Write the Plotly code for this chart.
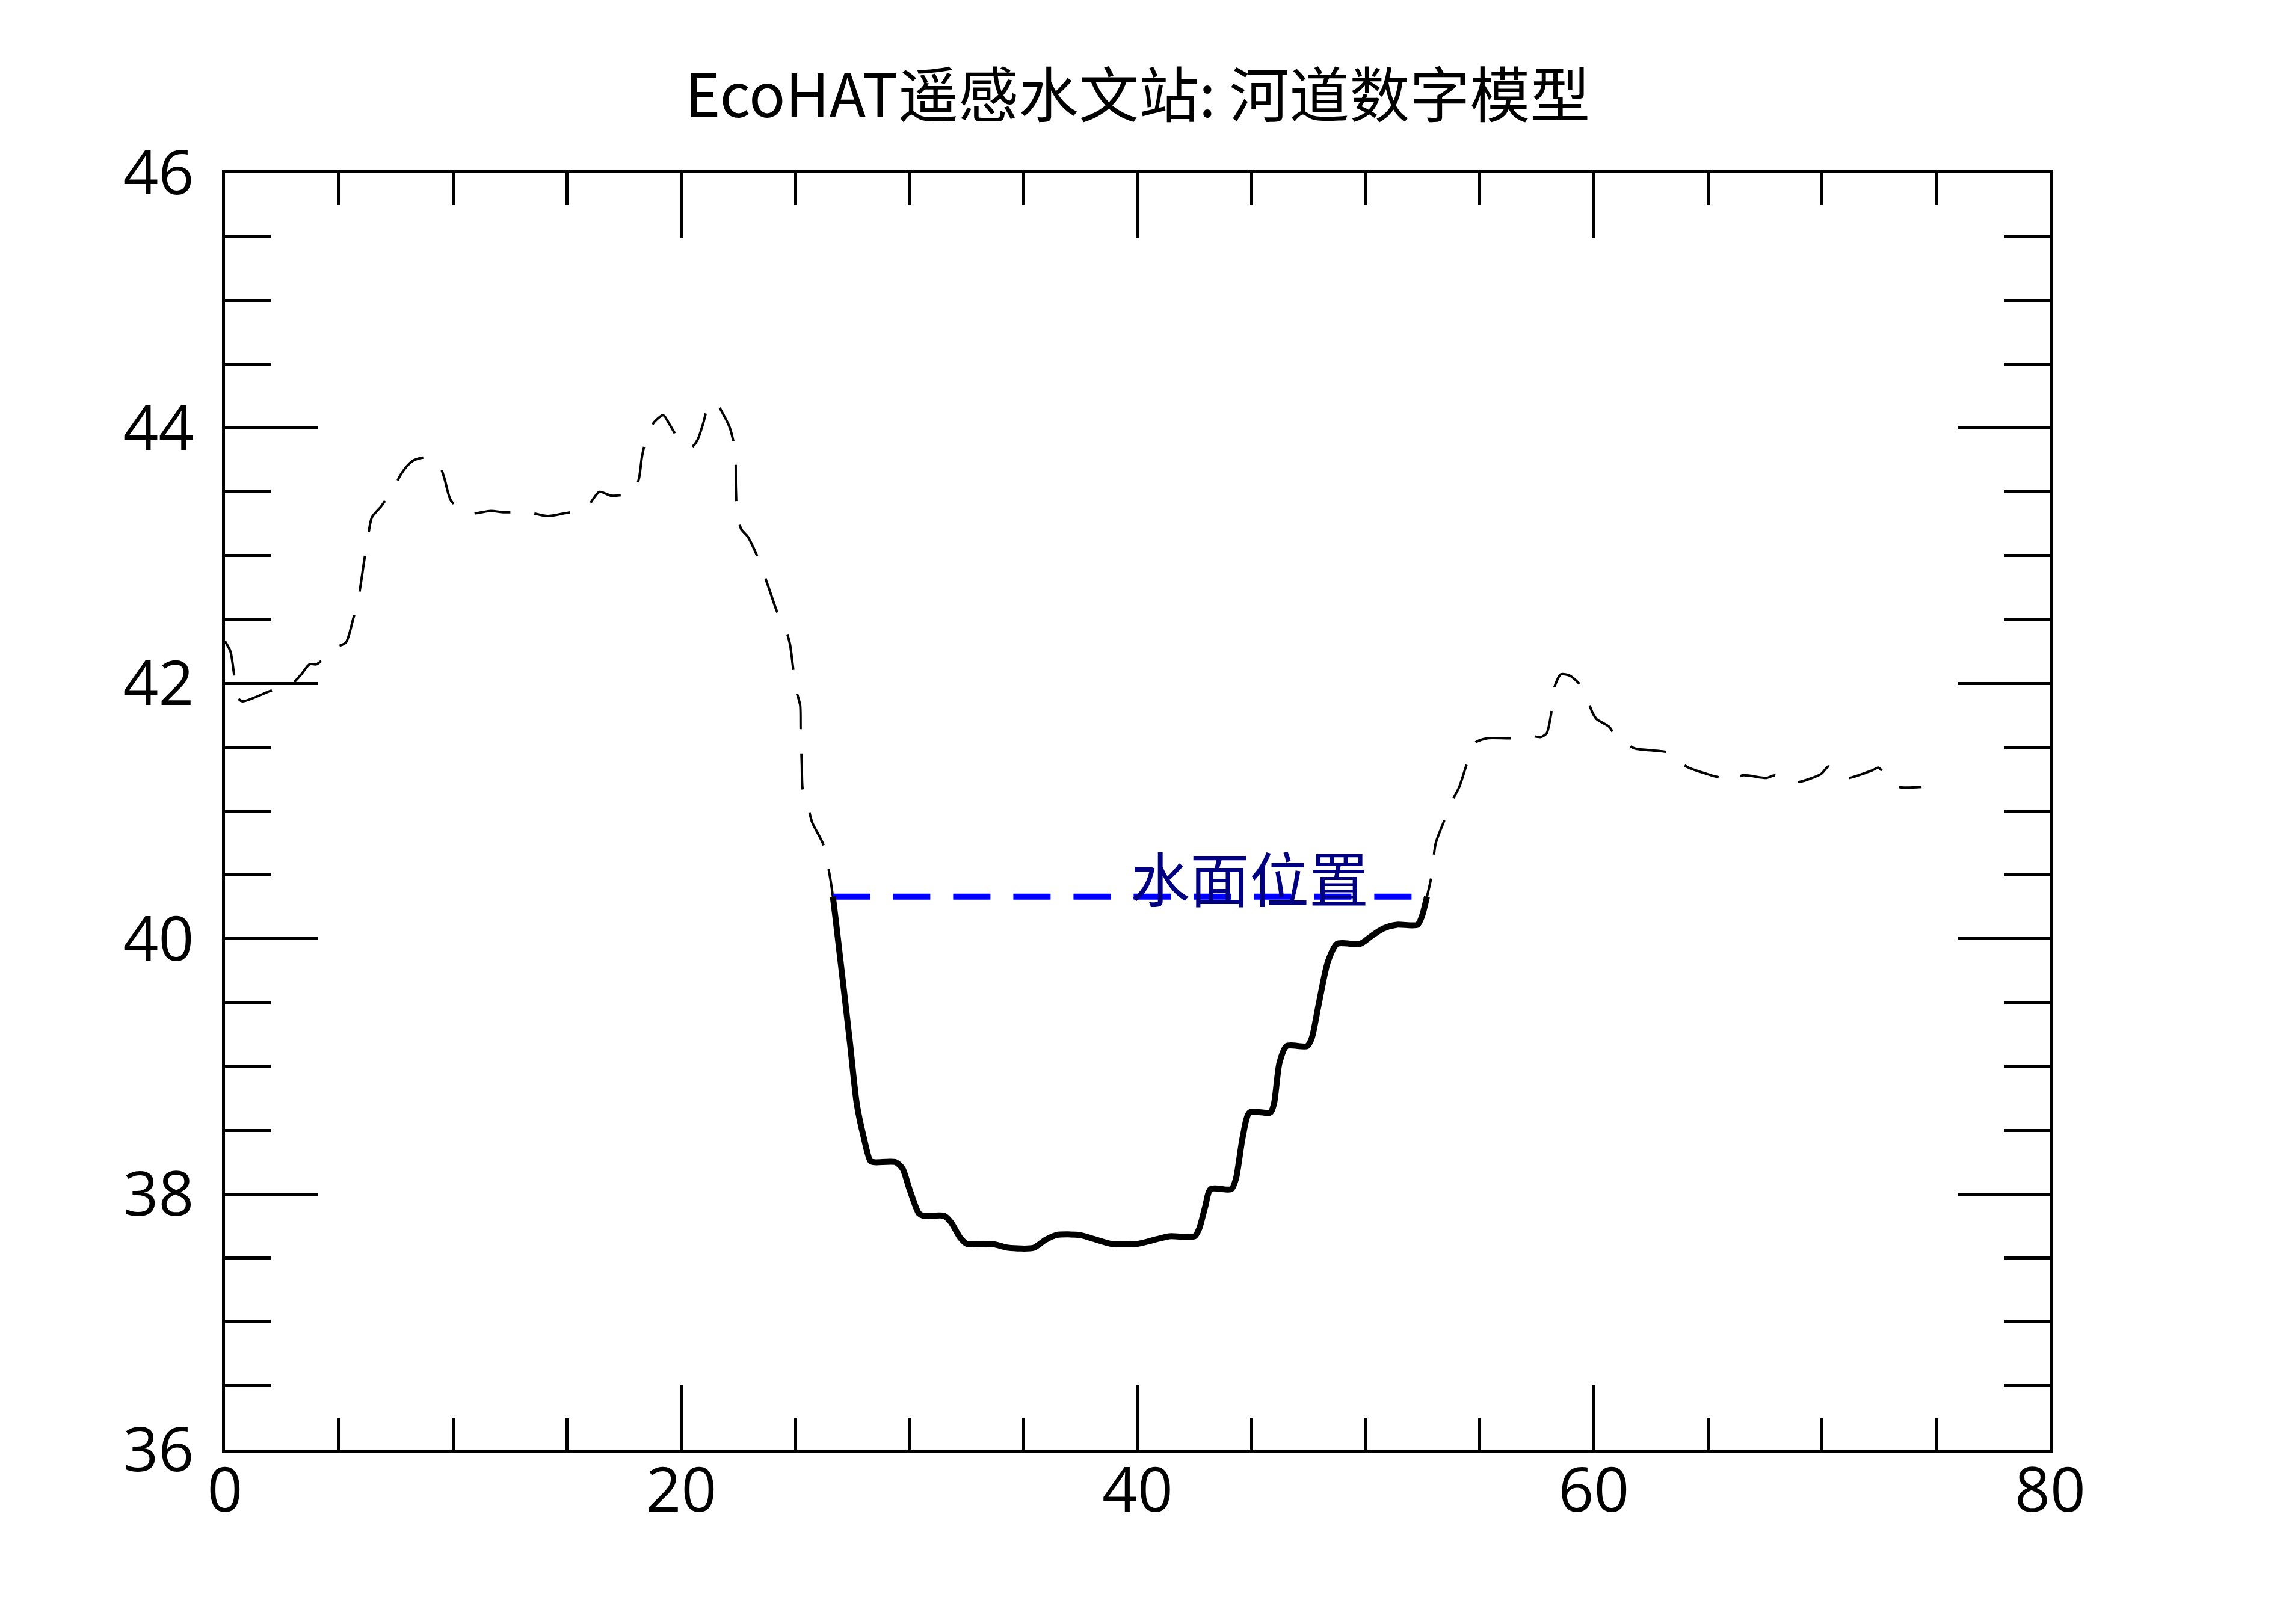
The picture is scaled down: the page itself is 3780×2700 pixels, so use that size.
import numpy as np
import plotly.graph_objects as go

# ---- data ----
distance = [0.00, 0.24, 0.39, 0.54, 0.77, 1.97, 2.96, 3.34, 3.71, 4.02, 4.85, 5.30, 5.61, 5.87,
            6.10, 6.26, 6.44, 6.86, 7.42, 7.72, 8.02, 8.30, 8.85, 9.39, 9.61, 9.91, 10.64, 11.65,
            12.23, 13.27, 14.14, 14.83, 15.81, 16.41, 16.94, 17.92, 18.15, 18.28, 18.53, 18.83,
            19.21, 19.48, 20.01, 20.45, 20.72, 20.95, 21.25, 21.55, 21.86, 22.13, 22.36, 22.39,
            22.44, 22.62, 22.91, 23.32, 23.59, 23.85, 24.20, 24.55, 24.77, 24.90, 25.03, 25.21,
            25.23, 25.28, 25.32, 25.52, 25.74, 26.22, 26.55, 26.68, 26.80, 27.08, 27.39, 27.69,
            27.99, 28.29, 28.49, 29.40, 29.70, 30.00, 30.41, 30.61, 31.52, 31.82, 32.22, 32.52,
            33.63, 34.33, 35.45, 35.94, 36.45, 37.46, 38.06, 38.87, 39.98, 40.68, 41.39, 42.50,
            42.70, 42.96, 43.20, 44.11, 44.31, 44.61, 44.91, 45.82, 45.98, 46.22, 46.53, 47.43,
            47.63, 47.93, 48.34, 48.74, 49.75, 50.24, 50.76, 51.36, 52.27, 52.47, 52.67, 52.87,
            53.07, 53.45, 53.65, 53.90, 54.10, 54.41, 54.58, 54.83, 55.33, 56.42, 57.18, 57.68,
            57.93, 58.15, 58.27, 58.55, 58.95, 59.39, 59.70, 59.94, 60.12, 60.67, 61.04, 61.38,
            61.80, 62.88, 63.48, 63.81, 64.15, 65.16, 65.58, 66.05, 66.50, 67.56, 67.93, 68.52,
            69.02, 69.95, 70.28, 70.53, 70.87, 71.20, 72.21, 72.46, 72.71, 72.97, 73.34, 74.36]
elevation = [42.33, 42.25, 42.08, 41.89, 41.86, 41.94, 42.00, 42.07, 42.15, 42.15, 42.28, 42.32,
             42.50, 42.69, 42.96, 43.14, 43.30, 43.39, 43.54, 43.64, 43.71, 43.75, 43.77, 43.71,
             43.61, 43.43, 43.33, 43.35, 43.34, 43.34, 43.31, 43.33, 43.37, 43.50, 43.47, 43.50,
             43.61, 43.78, 43.96, 44.05, 44.10, 44.03, 43.88, 43.85, 43.91, 44.03, 44.20, 44.19,
             44.10, 44.00, 43.82, 43.54, 43.35, 43.21, 43.15, 43.00, 42.87, 42.74, 42.56, 42.44,
             42.30, 42.12, 41.95, 41.83, 41.65, 41.37, 41.17, 41.06, 40.91, 40.74, 40.45, 40.28,
             40.10, 39.67, 39.19, 38.71, 38.45, 38.26, 38.25, 38.25, 38.20, 38.04, 37.85, 37.83,
             37.83, 37.78, 37.66, 37.61, 37.61, 37.58, 37.58, 37.64, 37.68, 37.68, 37.65, 37.61,
             37.61, 37.64, 37.67, 37.67, 37.73, 37.90, 38.04, 38.04, 38.12, 38.45, 38.64, 38.64,
             38.71, 39.03, 39.16, 39.16, 39.22, 39.48, 39.82, 39.96, 39.96, 40.02, 40.08, 40.11,
             40.11, 40.18, 40.32, 40.48, 40.75, 40.93, 41.03, 41.12, 41.19, 41.36, 41.46, 41.54,
             41.57, 41.57, 41.59, 41.58, 41.61, 41.79, 41.97, 42.07, 42.06, 41.99, 41.88, 41.77,
             41.72, 41.66, 41.56, 41.53, 41.49, 41.47, 41.45, 41.38, 41.34, 41.28, 41.26, 41.23,
             41.28, 41.26, 41.28, 41.23, 41.23, 41.29, 41.35, 41.33, 41.26, 41.26, 41.32, 41.34,
             41.30, 41.24, 41.19, 41.19]
water_level = 40.33
water_label = "水面位置"
title_text = "EcoHAT遥感水文站: 河道数字模型"
x_ticks = [0, 20, 40, 60, 80]
y_ticks = [36, 38, 40, 42, 44, 46]

# ---- underwater part of the profile (derived from data) ----
xd = np.array(distance)
yd = np.array(elevation)
below = yd <= water_level
idx = np.where(below)[0]
i0, i1 = idx[0], idx[-1]
xl = xd[i0 - 1] + (water_level - yd[i0 - 1]) * (xd[i0] - xd[i0 - 1]) / (yd[i0] - yd[i0 - 1])
xr = xd[i1] + (water_level - yd[i1]) * (xd[i1 + 1] - xd[i1]) / (yd[i1 + 1] - yd[i1])
wx = np.concatenate([[xl], xd[i0:i1 + 1], [xr]])
wy = np.concatenate([[water_level], yd[i0:i1 + 1], [water_level]])

fig = go.Figure()
fig.add_trace(go.Scatter(x=distance, y=elevation, mode="lines",
                         line=dict(color="black", width=4, dash="60px,40px",
                                   shape="spline", smoothing=0.7),
                         showlegend=False, hoverinfo="skip"))
fig.add_trace(go.Scatter(x=[xl, xr], y=[water_level, water_level], mode="lines",
                         line=dict(color="#0000ff", width=10, dash="62px,38px"),
                         showlegend=False, hoverinfo="skip"))
fig.add_trace(go.Scatter(x=wx, y=wy, mode="lines",
                         line=dict(color="black", width=10, shape="spline", smoothing=0.7),
                         showlegend=False, hoverinfo="skip"))

fig.add_annotation(x=44.9, y=40.49, text=water_label, showarrow=False,
                   xanchor="center", yanchor="middle",
                   font=dict(family="Noto Sans CJK SC", size=99, color="#000080"))

axis_common = dict(showline=True, linecolor="black", linewidth=5, mirror="allticks",
                   ticks="inside", tickcolor="black", tickwidth=5, showgrid=False,
                   zeroline=False,
                   tickfont=dict(family="Open Sans", size=103, color="black"))

fig.update_xaxes(range=[0, 80], tickvals=x_ticks, ticktext=[str(v) for v in x_ticks],
                 ticklen=108, ticklabelstandoff=-26,
                 minor=dict(ticks="inside", dtick=5, ticklen=53, tickwidth=5, tickcolor="black",
                            showgrid=False),
                 **axis_common)
fig.update_yaxes(range=[36, 46], tickvals=y_ticks, ticktext=[str(v) for v in y_ticks],
                 ticklen=154, ticklabelstandoff=26,
                 minor=dict(ticks="inside", dtick=0.5, ticklen=77, tickwidth=5, tickcolor="black",
                            showgrid=False),
                 **axis_common)

fig.update_layout(
    width=3780, height=2700,
    margin=dict(l=374, r=372, t=287, b=290),
    paper_bgcolor="white", plot_bgcolor="white",
    title=dict(text=title_text, x=0.5, xanchor="center", xref="paper",
               y=1 - 160 / 2700, yref="container", yanchor="middle",
               font=dict(family="Noto Sans CJK SC", size=100, color="black")),
)

fig.write_html("out.html")
